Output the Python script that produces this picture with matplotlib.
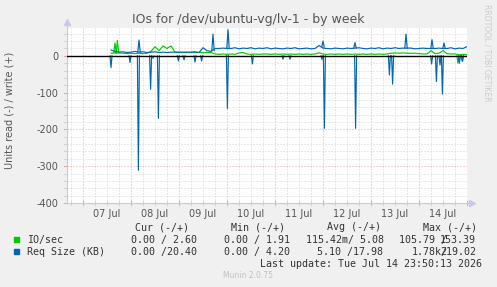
import matplotlib
matplotlib.use("Agg")
import matplotlib.pyplot as plt

# ---- data (hours since 07 Jul 00:00) ----
# base curves in 2-hour steps
hours = list(range(14, 193, 2))

ios_write = [7, 8, 8, 7, 6, 7, 6, 7, 6, 7, 12, 25, 14, 27, 20, 27, 10, 9, 9, 9,
             9, 9, 9, 9, 9, 9, 5, 4, 5, 4, 5, 4, 8, 9, 5, 4, 5, 4, 5, 5,
             4, 5, 4, 5, 4, 5, 4, 5, 4, 5, 4, 5, 8, 5, 4, 5, 4, 5, 4, 5,
             4, 5, 4, 5, 4, 5, 4, 5, 4, 5, 7, 8, 7, 8, 7, 7, 7, 6, 5, 5,
             14, 6, 7, 14, 6, 5, 5, 3, 4, 3]
req_write = [16, 12, 10, 11, 9, 10, 12, 10, 11, 9, 10, 11, 9, 10, 9, 10, 10, 10, 10, 10,
             10, 11, 9, 22, 14, 12, 20, 20, 21, 20, 20, 22, 19, 21, 20, 22, 19, 21, 20, 22,
             19, 21, 20, 19, 21, 20, 22, 19, 20, 21, 19, 20, 28, 21, 20, 19, 21, 20, 19, 21,
             20, 21, 22, 20, 19, 21, 20, 22, 19, 21, 20, 22, 20, 21, 21, 21, 19, 20, 21, 20,
             20, 20, 21, 20, 20, 22, 19, 21, 20, 25]

# short spikes: hour, peak value, level around the spike
ios_write_spike_h = [16, 17.2]
ios_write_spike_v = [35, 42]
ios_write_spike_base = [8, 8]

req_write_spike_h = [28, 65, 72.5, 120, 136, 161.5, 174.5, 180.5]
req_write_spike_v = [43, 59, 71, 40, 36, 59, 44, 35]
req_write_spike_base = [10, 14, 20, 24, 21, 21, 20, 20]

# read side (negative), zero between spikes
ios_read_h = [35, 187.5, 189.5]
ios_read_v = [-7, -20, -14]

req_read_h = [14, 23.5, 27.7, 33.8, 37.7, 47.7, 50.5, 56, 59.3, 72.2, 84.7, 100, 103.5,
              119.5, 120.7, 136.3, 153.2, 154.8, 174.3, 176.7, 178.5, 179.7, 188.2, 189.8]
req_read_v = [-32, -18, -311, -91, -170, -14, -11, -17, -14, -143, -22, -9, -9,
              -10, -197, -197, -52, -77, -22, -70, -25, -104, -20, -15]

day_labels = ["07 Jul", "08 Jul", "09 Jul", "10 Jul", "11 Jul", "12 Jul", "13 Jul", "14 Jul"]
y_ticks = [0, -100, -200, -300, -400]

legend_header = ["Cur (-/+)", "Min (-/+)", "Avg (-/+)", "Max (-/+)"]
io_stats = ["0.00 / 2.60", "0.00 / 1.91", "115.42m/ 5.08"]
req_stats = ["0.00 /20.40", "0.00 / 4.20", "5.10 /17.98"]

GREEN = "#00cc00"
BLUE = "#0066b3"

W, H = 497, 287
fig = plt.figure(figsize=(W / 100, H / 100), dpi=100, facecolor="#f0f0f0")
L, R, T, B = 67, 467, 27.5, 203
ax = fig.add_axes([L / W, 1 - B / H, (R - L) / W, (B - T) / H])
ax.set_facecolor("white")
ax.set_xlim(-8, 192)
ax.set_ylim(-400, 77)

RED_GRID = "#e8a8a8"
GRAY_GRID = "#d4d4d4"
xt = ax.get_xaxis_transform()
yt = ax.get_yaxis_transform()
for h in range(-6, 193, 6):
    c = RED_GRID if h % 24 == 0 else GRAY_GRID
    ax.axvline(h, color=c, lw=0.72, ls=(0, (1, 2)), zorder=1)
    ax.plot([h, h], [-0.012, 0.012], transform=xt, color=c, lw=0.8, clip_on=False, zorder=2)
for v in range(-400, 78, 20):
    c = RED_GRID if v % 100 == 0 else GRAY_GRID
    ax.axhline(v, color=c, lw=0.72, ls=(0, (1, 2)), zorder=1)
    ax.plot([-0.008, 0.0], [v, v], transform=yt, color=c, lw=0.8, clip_on=False, zorder=2)

lw = 0.85
for h, v in zip(ios_read_h, ios_read_v):
    ax.plot([h - 0.6, h, h + 0.6], [0, v, 0], color=GREEN, lw=lw, zorder=3)
for h, v in zip(req_read_h, req_read_v):
    ax.plot([h - 0.5, h, h + 0.5], [0, v, 0], color=BLUE, lw=lw, zorder=3.5)
ax.axhline(0, color="black", lw=1.0, zorder=4)
ax.plot(hours, ios_write, color=GREEN, lw=lw, zorder=5)
for h, v, b in zip(ios_write_spike_h, ios_write_spike_v, ios_write_spike_base):
    ax.plot([h - 0.6, h, h + 0.6], [b, v, b], color=GREEN, lw=lw, zorder=5)
ax.plot(hours, req_write, color=BLUE, lw=lw, zorder=6)
for h, v, b in zip(req_write_spike_h, req_write_spike_v, req_write_spike_base):
    ax.plot([h - 0.6, h, h + 0.6], [b, v, b], color=BLUE, lw=lw, zorder=6)

for s in ax.spines.values():
    s.set_visible(False)
axc = "#c8c8ee"
ax.plot([0, 1.012], [0, 0], transform=ax.transAxes, color=axc, lw=0.8, clip_on=False)
ax.plot([0, 0], [0, 1.03], transform=ax.transAxes, color=axc, lw=0.8, clip_on=False)
ax.plot([1.012], [0], transform=ax.transAxes, marker=">", color=axc, ms=4, clip_on=False)
ax.plot([0], [1.03], transform=ax.transAxes, marker="^", color=axc, ms=4, clip_on=False)

ax.set_xticks([12 + 24 * k for k in range(8)])
ax.set_xticklabels(day_labels)
ax.set_yticks(y_ticks)
ax.set_yticklabels([str(v) for v in y_ticks])
ax.tick_params(axis="both", length=0, labelsize=7, colors="#555555")
ax.tick_params(axis="x", pad=4)
ax.tick_params(axis="y", pad=6)

fig.text(0.5, 1 - 19 / H, "IOs for /dev/ubuntu-vg/lv-1 - by week", ha="center", va="center",
         fontsize=9, color="#555555")
fig.text(10 / W, 1 - 110 / H, "Units read (-) / write (+)", rotation=90, ha="center", va="center",
         fontsize=7, color="#555555")
fig.text(487 / W, 1 - 53 / H, "RRDTOOL / TOBI OETIKER", rotation=270, ha="center", va="center",
         fontsize=5.5, color="#cccccc")

mono = dict(family="DejaVu Sans Mono", fontsize=7.2, color="#333333", va="center")


def px(x, y):
    return x / W, 1 - y / H


for x, t in zip([135, 231, 327, 423], legend_header):
    fig.text(*px(x, 227.5), t, **mono)
fig.patches.append(plt.Rectangle(px(14, 242), 5 / W, 5 / H, transform=fig.transFigure, color=GREEN))
fig.patches.append(plt.Rectangle(px(14, 254), 5 / W, 5 / H, transform=fig.transFigure, color=BLUE))
fig.text(*px(27, 239.7), "IO/sec", **mono)
fig.text(*px(27, 251.7), "Req Size (KB)", **mono)
for x, t in zip([131, 224, 306], io_stats):
    fig.text(*px(x, 239.7), t, **mono)
fig.text(*px(399, 239.7), "105.79 /", **mono)
fig.text(*px(476, 239.7), "153.39", ha="right", **mono)
for x, t in zip([131, 224, 317], req_stats):
    fig.text(*px(x, 251.7), t, **mono)
fig.text(*px(412, 251.7), "1.78k/", **mono)
fig.text(*px(476, 251.7), "219.02", ha="right", **mono)
fig.text(*px(482, 263.7), "Last update: Tue Jul 14 23:50:13 2026", ha="right", **mono)
fig.text(*px(248, 276), "Munin 2.0.75", ha="center", va="center", fontsize=5.5, color="#c0c0c0")

fig.savefig("out.png", dpi=100, facecolor=fig.get_facecolor())
